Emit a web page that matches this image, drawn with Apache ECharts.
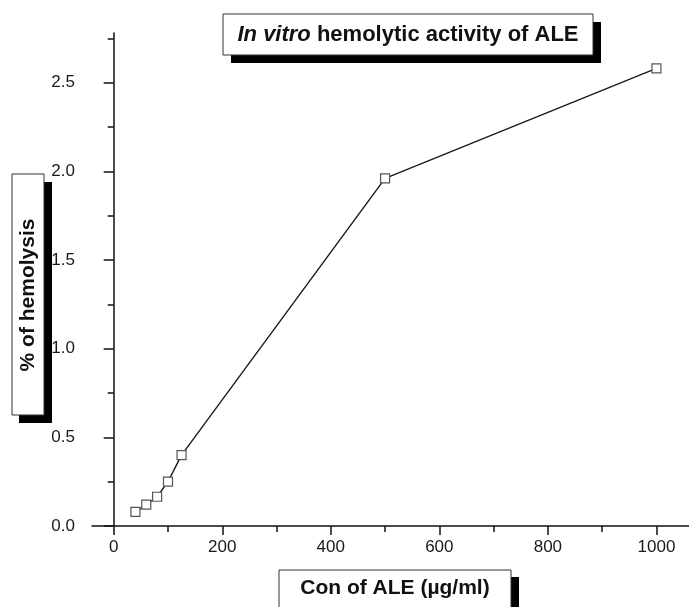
<!DOCTYPE html>
<html>
<head>
<meta charset="utf-8">
<script src="https://cdn.jsdelivr.net/npm/echarts@6/dist/echarts.min.js"></script>
<style>html,body{margin:0;padding:0;background:#fff}#c{width:689px;height:607px}</style>
</head>
<body>
<div id="c"></div>
<script>
const concentrations = [40, 60, 80, 100, 125, 500, 1000];
const hemolysis = [0.08, 0.12, 0.165, 0.25, 0.40, 1.96, 2.58];
const xMajorTicks = [0, 200, 400, 600, 800, 1000];
const xMinorTicks = [100, 300, 500, 700, 900];
const yMajorTicks = [0, 0.5, 1.0, 1.5, 2.0, 2.5];
const yMinorTicks = [0.25, 0.75, 1.25, 1.75, 2.25, 2.75];
const titleItalic = 'In vitro';
const titleRest = ' hemolytic activity of ALE';
const yTitle = '% of hemolysis';
const xTitle = 'Con of ALE (µg/ml)';

const FONT = '"Liberation Sans", Arial, sans-serif';
const chart = echarts.init(document.getElementById('c'), null, {renderer: 'canvas'});
const axLine = {show: true, lineStyle: {color: '#111', width: 1.5}};
const option = {
  animation: false,
  backgroundColor: '#fff',
  grid: {left: 92, right: 0, top: 33, bottom: 81, containLabel: false},
  xAxis: [{
    type: 'value', min: -40, max: 1060, position: 'bottom',
    axisLine: axLine, splitLine: {show: false},
    axisTick: {show: true, inside: false, length: 9, customValues: xMajorTicks, lineStyle: {color: '#111', width: 1.5}},
    axisLabel: {customValues: xMajorTicks, margin: 13, fontFamily: FONT, fontSize: 17, color: '#1a1a1a',
      formatter: v => String(v)}
  }, {
    type: 'value', min: -40, max: 1060, position: 'bottom', offset: 0,
    axisLine: {show: false}, splitLine: {show: false},
    axisTick: {show: true, inside: false, length: 6, customValues: xMinorTicks, lineStyle: {color: '#111', width: 1.5}},
    axisLabel: {show: false}
  }],
  yAxis: [{
    type: 'value', min: 0, max: 2.78, position: 'left',
    axisLine: axLine, splitLine: {show: false},
    axisTick: {show: true, inside: false, length: 10, customValues: yMajorTicks, lineStyle: {color: '#111', width: 1.5}},
    axisLabel: {customValues: yMajorTicks, margin: 17, fontFamily: FONT, fontSize: 17, color: '#1a1a1a',
      formatter: v => v.toFixed(1)}
  }, {
    type: 'value', min: 0, max: 2.78, position: 'left', offset: 0,
    axisLine: {show: false}, splitLine: {show: false},
    axisTick: {show: true, inside: false, length: 6, customValues: yMinorTicks, lineStyle: {color: '#111', width: 1.5}},
    axisLabel: {show: false}
  }],
  series: [{
    type: 'line',
    xAxisIndex: 0, yAxisIndex: 0,
    data: concentrations.map((c, i) => [c, hemolysis[i]]),
    symbol: 'rect', symbolSize: 9,
    itemStyle: {color: '#fff', borderColor: '#555', borderWidth: 1.2},
    lineStyle: {color: '#1a1a1a', width: 1.4},
    z: 3
  }],
  graphic: [
    {type: 'rect', shape: {x: 231, y: 22, width: 370, height: 41}, style: {fill: '#000'}, z: 10},
    {type: 'rect', shape: {x: 223, y: 14, width: 370, height: 41}, style: {fill: '#fff', stroke: '#333', lineWidth: 1}, z: 11},
    {type: 'text', x: 408, y: 35, z: 12, style: {
      text: '{i|' + titleItalic + '}{b|' + titleRest + '}',
      align: 'center', verticalAlign: 'middle',
      rich: {
        i: {fontFamily: FONT, fontSize: 22, fontWeight: 'bold', fontStyle: 'italic', fill: '#111'},
        b: {fontFamily: FONT, fontSize: 22, fontWeight: 'bold', fill: '#111'}
      }
    }},
    {type: 'rect', shape: {x: 19, y: 182, width: 33, height: 241}, style: {fill: '#000'}, z: 10},
    {type: 'rect', shape: {x: 12, y: 174, width: 32, height: 241}, style: {fill: '#fff', stroke: '#333', lineWidth: 1}, z: 11},
    {type: 'text', x: 28, y: 295, rotation: Math.PI / 2, z: 12, style: {
      text: yTitle, align: 'center', verticalAlign: 'middle',
      fontFamily: FONT, fontSize: 21, fontWeight: 'bold', fill: '#111'
    }},
    {type: 'rect', shape: {x: 286, y: 577, width: 233, height: 40}, style: {fill: '#000'}, z: 10},
    {type: 'rect', shape: {x: 279, y: 570, width: 232, height: 40}, style: {fill: '#fff', stroke: '#333', lineWidth: 1}, z: 11},
    {type: 'text', x: 395, y: 588, z: 12, style: {
      text: xTitle, align: 'center', verticalAlign: 'middle',
      fontFamily: FONT, fontSize: 21, fontWeight: 'bold', fill: '#111'
    }}
  ]
};
chart.setOption(option);
</script>
</body>
</html>
